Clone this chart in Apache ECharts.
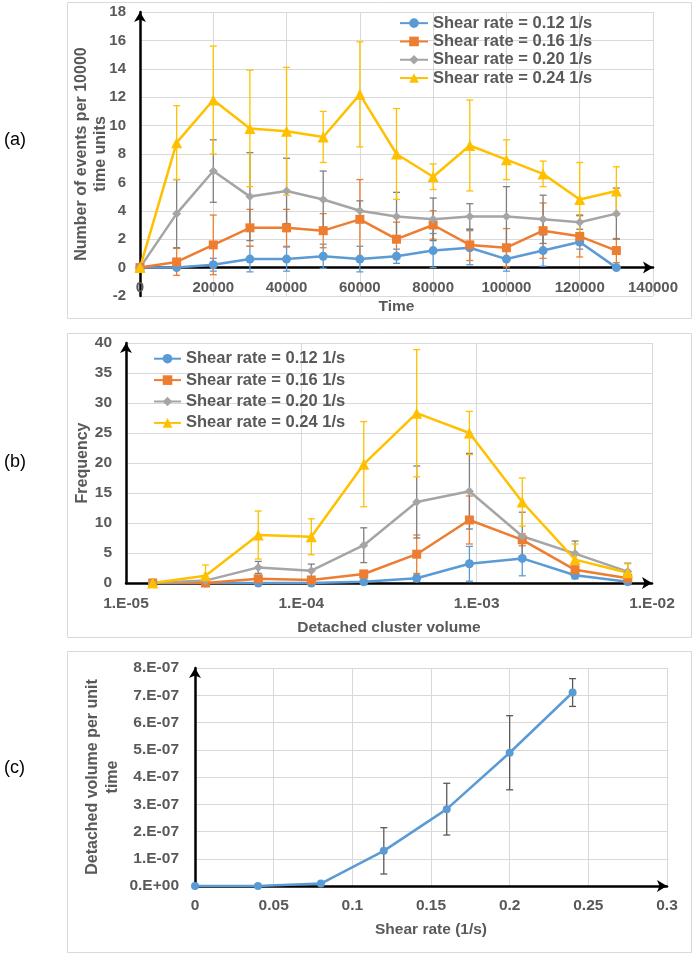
<!DOCTYPE html>
<html><head><meta charset="utf-8">
<script src="https://cdn.jsdelivr.net/npm/echarts@6/dist/echarts.min.js"></script>
<style>html,body{margin:0;padding:0;background:#fff}#c{width:696px;height:956px}</style>
</head><body><div id="c"></div>
<script>
// ---------- Panel (a) ----------
const seriesNames = ['Shear rate = 0.12 1/s','Shear rate = 0.16 1/s','Shear rate = 0.20 1/s','Shear rate = 0.24 1/s'];
const timesA = [0,10000,20000,30000,40000,50000,60000,70000,80000,90000,100000,110000,120000,130000];
const blueA   = [0,0,0.2,0.6,0.6,0.8,0.6,0.8,1.2,1.4,0.6,1.2,1.8,0];
const blueErrA= [0,0,0.45,0.9,0.85,0.85,0.9,0.5,1.2,1.2,0.85,1.1,0.5,0];
const orangeA   = [0,0.4,1.6,2.8,2.8,2.6,3.4,2.0,3.0,1.6,1.4,2.6,2.2,1.2];
const orangeErrA= [0,0.95,2.1,1.3,1.3,1.2,2.8,1.2,1.0,1.1,1.35,1.95,1.45,0.85];
const grayA   = [0,3.8,6.8,5.0,5.4,4.8,4.0,3.6,3.4,3.6,3.6,3.4,3.2,3.8];
const grayErrA= [0,2.4,2.2,3.1,2.3,2.0,0.7,1.7,1.5,0.9,2.1,1.7,0.5,1.8];
const yellowA   = [0,8.8,11.8,9.8,9.6,9.2,12.2,8.0,6.4,8.6,7.6,6.6,4.8,5.4];
const yellowErrA= [0,2.6,3.8,4.1,4.5,1.8,3.7,3.2,0.9,3.2,1.4,0.9,2.6,1.7];

// ---------- Panel (b) ----------
const volumesB = [1.42e-5,2.84e-5,5.68e-5,1.14e-4,2.27e-4,4.55e-4,9.09e-4,1.82e-3,3.64e-3,7.27e-3];
const blueB   = [0,0,0,0,0.2,0.8,3.2,4.1,1.3,0.2];
const blueErrB= [0,0,0,0,0,0.5,2.9,2.9,0.6,0.2];
const orangeB   = [0,0,0.7,0.5,1.5,4.8,10.5,7.2,2.2,0.8];
const orangeErrB= [0,0,0.3,0.3,0.6,3.2,4.0,1.0,1.0,0.5];
const grayB   = [0,0.4,2.6,2.05,6.3,13.5,15.3,7.8,4.9,1.9];
const grayErrB= [0,0.3,1.0,1.1,2.9,6.0,6.3,4.0,2.1,1.4];
const yellowB   = [0,1.2,8.0,7.7,19.8,28.3,25.0,13.5,3.9,1.7];
const yellowErrB= [0,1.8,4.0,3.0,7.1,10.6,3.6,4.0,2.6,1.5];

// ---------- Panel (c) ----------
const shearC = [0,0.04,0.08,0.12,0.16,0.2,0.24];
const volC   = [0,0,0.09e-7,1.29e-7,2.82e-7,4.89e-7,7.1e-7];
const volErrC= [0,0,0,0.85e-7,0.95e-7,1.36e-7,0.51e-7];

const FONT = "'Liberation Sans', Arial, sans-serif";
const TXT = '#595959';
const COLORS = ['#5B9BD5','#ED7D31','#A5A5A5','#FFC000'];
const ERRCOL = ['#5B9BD5','#ED7D31','#7F7F7F','#FFC000'];
const SYMBOLS = ['circle','rect','diamond','triangle'];
const SYMSIZE = [9,9,9,11];

function zip(xs, ys){ return xs.map((x,i)=>[x, ys[i]]); }
function zip3(xs, ys, es){ return xs.map((x,i)=>[x, ys[i], es[i]]); }

function errSeries(idx, data, color){
  return {
    type:'custom', name:'err', xAxisIndex:idx, yAxisIndex:idx, z:2, clip:true,
    silent:true, encode:{x:0,y:1},
    data:data,
    renderItem:function(params, api){
      const x = api.value(0), y = api.value(1), e = api.value(2);
      if (!e) return null;
      const t = api.coord([x, y+e]), b = api.coord([x, y-e]);
      const w = 3.5;
      const st = {stroke:color, lineWidth:1.3, fill:null};
      return {type:'group', children:[
        {type:'line', shape:{x1:t[0],y1:t[1],x2:b[0],y2:b[1]}, style:st},
        {type:'line', shape:{x1:t[0]-w,y1:t[1],x2:t[0]+w,y2:t[1]}, style:st},
        {type:'line', shape:{x1:b[0]-w,y1:b[1],x2:b[0]+w,y2:b[1]}, style:st}
      ]};
    }
  };
}
function lineSeries(idx, k, data){
  return {
    type:'line', name:seriesNames[k], xAxisIndex:idx, yAxisIndex:idx, z:3,
    data:data, symbol:SYMBOLS[k], symbolSize:SYMSIZE[k], showSymbol:true,
    lineStyle:{color:COLORS[k], width:2.5}, itemStyle:{color:COLORS[k]},
    emphasis:{disabled:true}
  };
}

const axisLine = {show:true, onZero:true, lineStyle:{color:'#000', width:2.5}, symbol:['none','arrow'], symbolSize:[9,10]};
const split = {show:true, lineStyle:{color:'#D9D9D9', width:1}};
function lbl(size, extra){ return Object.assign({fontFamily:FONT, fontWeight:'bold', color:TXT, fontSize:size}, extra||{}); }

function expFmt(v){
  const e = Math.round(Math.log10(v));
  return '1.E' + (e<0?'-':'+') + String(Math.abs(e)).padStart(2,'0');
}

const seriesA = [blueA, orangeA, grayA, yellowA];
const errA = [blueErrA, orangeErrA, grayErrA, yellowErrA];
const seriesB = [blueB, orangeB, grayB, yellowB];
const errB = [blueErrB, orangeErrB, grayErrB, yellowErrB];

const series = [];
for (let k=0;k<4;k++){
  series.push(errSeries(0, zip3(timesA, seriesA[k], errA[k]), ERRCOL[k]));
  series.push(lineSeries(0, k, zip(timesA, seriesA[k])));
}
for (let k=0;k<4;k++){
  series.push(errSeries(1, zip3(volumesB, seriesB[k], errB[k]), ERRCOL[k]));
  series.push(lineSeries(1, k, zip(volumesB, seriesB[k])));
}
series.push(errSeries(2, zip3(shearC, volC, volErrC), '#595959'));
series.push({type:'line', name:'c', xAxisIndex:2, yAxisIndex:2, z:3, data:zip(shearC, volC),
  symbol:'circle', symbolSize:8, lineStyle:{color:'#5B9BD5', width:2.5}, itemStyle:{color:'#5B9BD5'}});

const legendText = {fontFamily:FONT, fontWeight:'bold', color:TXT, fontSize:16.5};

const option = {
  animation:false,
  backgroundColor:'#fff',
  grid:[
    {left:140, right:43, top:12, bottom:660},
    {left:126, right:44, top:343, bottom:373},
    {left:195, right:29, top:668, bottom:70}
  ],
  xAxis:[
    {gridIndex:0, type:'value', min:0, max:140000, interval:20000,
     axisLine:axisLine, axisTick:{show:false}, splitLine:split,
     axisLabel:lbl(15,{margin:-16, formatter:v=>String(v)}),
     name:'Time', nameLocation:'middle', nameGap:3, nameMoveOverlap:false, nameTextStyle:lbl(15.5)},
    {gridIndex:1, type:'log', logBase:10, min:1e-5, max:1e-2,
     axisLine:axisLine, axisTick:{show:false}, splitLine:split, minorSplitLine:{show:false},
     axisLabel:lbl(15.5,{margin:13, formatter:expFmt}),
     name:'Detached cluster volume', nameLocation:'middle', nameGap:37, nameMoveOverlap:false, nameTextStyle:lbl(15.5)},
    {gridIndex:2, type:'value', min:0, max:0.3, interval:0.05,
     axisLine:axisLine, axisTick:{show:false}, splitLine:split,
     axisLabel:lbl(15.5,{margin:12, formatter:v=>String(+v.toFixed(2))}),
     name:'Shear rate (1/s)', nameLocation:'middle', nameGap:36, nameMoveOverlap:false, nameTextStyle:lbl(15.5)}
  ],
  yAxis:[
    {gridIndex:0, type:'value', min:-2, max:18, interval:2,
     axisLine:Object.assign({}, axisLine, {onZero:false}), axisTick:{show:false}, splitLine:split,
     axisLabel:lbl(15,{margin:14}),
     name:'Number of events per 10000\ntime units', nameLocation:'middle', nameGap:30, nameMoveOverlap:false,
     nameTextStyle:lbl(16,{lineHeight:19})},
    {gridIndex:1, type:'value', min:0, max:40, interval:5,
     axisLine:Object.assign({}, axisLine, {onZero:false}), axisTick:{show:false}, splitLine:split,
     axisLabel:lbl(15.5,{margin:14}),
     name:'Frequency', nameLocation:'middle', nameGap:34, nameMoveOverlap:false, nameTextStyle:lbl(16,{lineHeight:18})},
    {gridIndex:2, type:'value', min:0, max:8e-7, interval:1e-7,
     axisLine:Object.assign({}, axisLine, {onZero:false}), axisTick:{show:false}, splitLine:split,
     axisLabel:lbl(15.5,{margin:16, formatter:v=>{const m=Math.round(v*1e7); return m===0?'0.E+00':m+'.E-07';}}),
     name:'Detached volume per unit\ntime', nameLocation:'middle', nameGap:72, nameMoveOverlap:false,
     nameTextStyle:lbl(16,{lineHeight:20})}
  ],
  legend:[
    {data:seriesNames, orient:'vertical', left:399, top:14, padding:0, itemWidth:28, itemHeight:12, itemGap:0,
     textStyle:Object.assign({lineHeight:18.3}, legendText), selectedMode:false},
    {data:seriesNames, orient:'vertical', left:153, top:348, padding:0, itemWidth:27, itemHeight:12, itemGap:0,
     textStyle:Object.assign({lineHeight:21.4}, legendText), selectedMode:false}
  ],
  graphic:[
    {type:'rect', z:-10, shape:{x:67.5, y:2.5, width:624, height:316}, style:{fill:null, stroke:'#D9D9D9', lineWidth:1}},
    {type:'rect', z:-10, shape:{x:67.5, y:333.5, width:624, height:304}, style:{fill:null, stroke:'#D9D9D9', lineWidth:1}},
    {type:'rect', z:-10, shape:{x:67.5, y:651.5, width:624, height:301}, style:{fill:null, stroke:'#D9D9D9', lineWidth:1}},
    {type:'text', left:4, top:131, style:{text:'(a)', fontFamily:FONT, fontSize:18, fill:'#000'}},
    {type:'text', left:4, top:453, style:{text:'(b)', fontFamily:FONT, fontSize:18, fill:'#000'}},
    {type:'text', left:4, top:759, style:{text:'(c)', fontFamily:FONT, fontSize:18, fill:'#000'}}
  ],
  series:series
};
const chart = echarts.init(document.getElementById('c'), null, {renderer:'canvas'});
chart.setOption(option);
</script></body></html>
